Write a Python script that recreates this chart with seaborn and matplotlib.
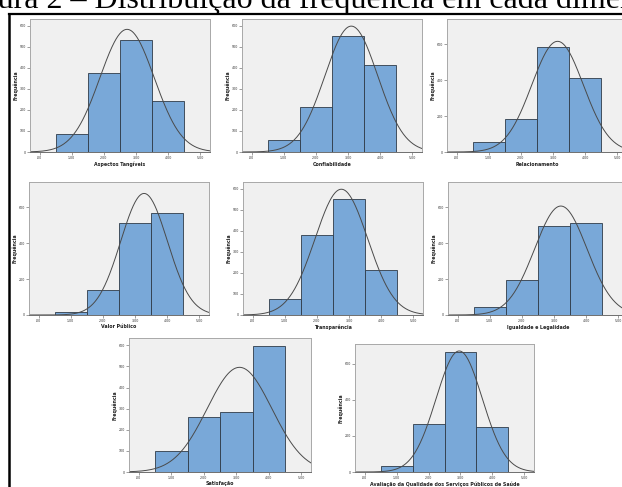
import numpy as np
import seaborn as sns
import matplotlib
matplotlib.use('Agg')
import matplotlib.pyplot as plt
from matplotlib.lines import Line2D

# ------------------------------------------------------------------------------- #
# Data (counts per bin centred at 1, 2, 3, 4)
dimensions = ['Aspectos Tangíveis', 'Confiabilidade', 'Relacionamento',
              'Valor Público', 'Transparência', 'Igualdade e Legalidade',
              'Satisfação', 'Avaliação da Qualidade dos Serviços Públicos de Saúde']
bin_centers = [1, 2, 3, 4]
bin_edges = [0.5, 1.5, 2.5, 3.5, 4.5]

aspectos_tangiveis = [84, 375, 533, 243]
confiabilidade = [55, 213, 552, 413]
relacionamento = [54, 186, 585, 413]
valor_publico = [17, 139, 513, 567]
transparencia = [78, 381, 552, 216]
igualdade_legalidade = [43, 193, 493, 511]
satisfacao = [98, 259, 284, 595]
avaliacao = [31, 267, 667, 250]

# normal curve parameters (mean, std dev) for each dimension
means = [2.72, 3.10, 3.14, 3.28, 2.76, 3.21, 3.10, 2.96]
std_devs = [0.844, 0.821, 0.802, 0.727, 0.819, 0.816, 0.994, 0.723]

x_ticks = [0, 1, 2, 3, 4, 5]
x_tick_labels = ['.00', '1.00', '2.00', '3.00', '4.00', '5.00']

all_counts = [aspectos_tangiveis, confiabilidade, relacionamento, valor_publico,
              transparencia, igualdade_legalidade, satisfacao, avaliacao]

# ------------------------------------------------------------------------------- #
# Layout in pixels: (left, top, right, bottom), y upper limit, y tick step
W, H = 622, 487
boxes = [(30, 19, 210, 152), (242, 19, 422, 152), (447, 19, 627, 152),
         (29, 182, 209, 315), (243, 182, 423, 315), (448, 182, 628, 315),
         (129, 338, 311, 472), (355, 344, 534, 472)]
y_tops = [633, 633, 740, 742, 632, 740, 635, 709]
y_steps = [100, 100, 200, 200, 100, 200, 100, 200]

bar_color = '#79A8D8'
face_color = '#F0F0F0'
frame_color = '#A8A8A8'

fig = plt.figure(figsize=(W / 100, H / 100), dpi=100)
fig.patch.set_facecolor('white')

# caption (cropped in the original)
fig.text(-45 / W, 1 - 8 / H, 'Figura 2 – Distribuição da frequência em cada dimensão',
         fontfamily='Liberation Serif', fontsize=23, va='baseline', ha='left')

# black frame around the panels
fig.add_artist(Line2D([9 / W, 9 / W], [0, 1 - 14 / H], color='black', lw=1.8,
                      transform=fig.transFigure))
fig.add_artist(Line2D([9 / W, 1], [1 - 14 / H, 1 - 14 / H], color='black', lw=1.6,
                      transform=fig.transFigure))

curve_x = np.linspace(-0.3, 5.3, 300)

for i, name in enumerate(dimensions):
    l, t, r, b = boxes[i]
    ax = fig.add_axes([l / W, 1 - b / H, (r - l) / W, (b - t) / H])
    ax.set_facecolor(face_color)

    counts = np.array(all_counts[i])
    sns.histplot(x=bin_centers, weights=counts, bins=bin_edges, color=bar_color,
                 edgecolor='#2F3B48', linewidth=0.6, alpha=1, ax=ax)

    # fitted normal curve
    n = counts.sum()
    curve_y = n / (std_devs[i] * np.sqrt(2 * np.pi)) * \
        np.exp(-0.5 * ((curve_x - means[i]) / std_devs[i]) ** 2)
    ax.plot(curve_x, curve_y, color='#4A4A4A', lw=0.7)

    ax.set_xlim(-0.3, 5.3)
    ax.set_ylim(0, y_tops[i])
    ax.set_xticks(x_ticks)
    ax.set_xticklabels(x_tick_labels)
    ax.set_yticks(np.arange(0, 601, y_steps[i]))

    for side in ['top', 'right', 'left', 'bottom']:
        ax.spines[side].set_color(frame_color)
        ax.spines[side].set_linewidth(0.7)
    ax.spines['bottom'].set_color('#6E6E6E')

    ax.tick_params(length=2, width=0.5, color='#777777', labelsize=2.3,
                   pad=1, labelcolor='#333333')
    ax.set_xlabel(name, fontsize=3.4, fontweight='bold', color='#222222', va='center')
    ax.set_ylabel('Frequência', fontsize=3.4, fontweight='bold', color='#222222',
                  va='center')
    ax.xaxis.set_label_coords(0.5, -12 / (b - t))
    ax.yaxis.set_label_coords(-14 / (r - l), 0.5)

plt.savefig('out.png', dpi=100)
